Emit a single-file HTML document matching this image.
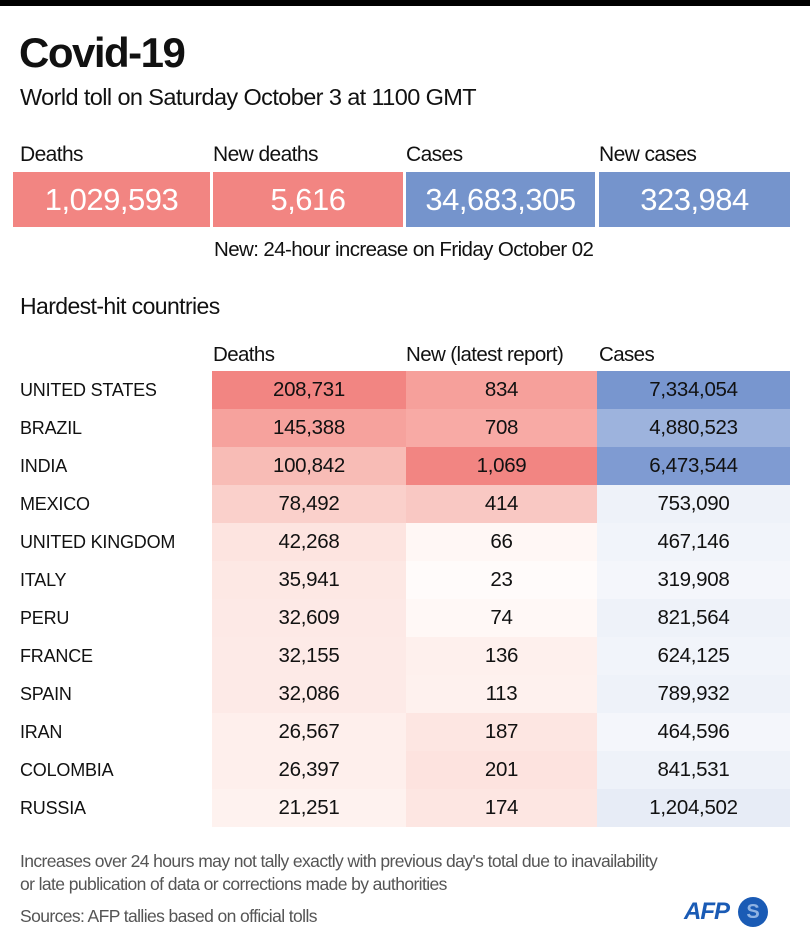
<!DOCTYPE html>
<html><head><meta charset="utf-8"><style>
body{margin:0;width:810px;height:943px;background:#fff;font-family:"Liberation Sans",sans-serif;color:#111;position:relative;overflow:hidden}
.a{position:absolute;white-space:nowrap}
.n{letter-spacing:-0.6px}
.box{position:absolute;top:172px;height:55px;color:#fff;font-size:31px;display:flex;align-items:center;justify-content:center;letter-spacing:-0.5px}
.c{position:absolute;height:38px;display:flex;align-items:center;justify-content:center;font-size:20.5px;letter-spacing:-0.3px}
.l{position:absolute;left:20px;height:38px;display:flex;align-items:center;font-size:18px;letter-spacing:-0.2px}
</style></head><body>
<div class="a" style="left:0;top:0;width:810px;height:6px;background:#000"></div>
<div class="a n" style="left:19px;top:29px;font-size:42px;font-weight:bold;letter-spacing:-1.5px">Covid-19</div>
<div class="a n" style="left:20px;top:84px;font-size:23.5px">World toll on Saturday October 3 at 1100 GMT</div>
<div class="a n" style="left:20px;top:143px;font-size:21px">Deaths</div>
<div class="a n" style="left:213px;top:143px;font-size:21px">New deaths</div>
<div class="a n" style="left:406px;top:143px;font-size:21px">Cases</div>
<div class="a n" style="left:599px;top:143px;font-size:21px">New cases</div>
<div class="box" style="left:13px;width:197px;background:#f28582">1,029,593</div>
<div class="box" style="left:213px;width:190px;background:#f28582">5,616</div>
<div class="box" style="left:406px;width:189px;background:#7594cc">34,683,305</div>
<div class="box" style="left:599px;width:191px;background:#7594cc">323,984</div>
<div class="a n" style="left:214px;top:238px;font-size:20.5px">New: 24-hour increase on Friday October 02</div>
<div class="a n" style="left:20px;top:293px;font-size:23px">Hardest-hit countries</div>
<div class="a n" style="left:213px;top:343px;font-size:20.5px">Deaths</div>
<div class="a n" style="left:406px;top:343px;font-size:20.5px">New (latest report)</div>
<div class="a n" style="left:599px;top:343px;font-size:20.5px">Cases</div>
<div id="t"></div>
<div class="a n" style="left:20px;top:850px;font-size:17.5px;color:#555;line-height:23px">Increases over 24 hours may not tally exactly with previous day's total due to inavailability<br>or late publication of data or corrections made by authorities</div>
<div class="a n" style="left:20px;top:906px;font-size:17.5px;color:#555">Sources: AFP tallies based on official tolls</div>
<div class="a" style="left:684px;top:898px;font-size:24px;font-weight:bold;font-style:italic;color:#1a5bb5;letter-spacing:-1px">AFP</div>
<div class="a" style="left:738px;top:897px;width:30px;height:30px;border-radius:50%;background:#1a5bb5;color:#8fb3e3;font-weight:bold;font-size:20px;text-align:center;line-height:30px">S</div>
<script>
var rows=[
["UNITED STATES","208,731","834","7,334,054","#f28582","#f6a09b","#7896cf"],
["BRAZIL","145,388","708","4,880,523","#f6a29d","#f8aaa5","#9db3dd"],
["INDIA","100,842","1,069","6,473,544","#f8bcb6","#f28582","#7f9bd2"],
["MEXICO","78,492","414","753,090","#fad0cb","#f9c8c3","#eef2f9"],
["UNITED KINGDOM","42,268","66","467,146","#fde4e0","#fff7f5","#f1f4fa"],
["ITALY","35,941","23","319,908","#fde8e4","#fffbfa","#f4f6fb"],
["PERU","32,609","74","821,564","#fde9e6","#fff8f6","#eef2f9"],
["FRANCE","32,155","136","624,125","#fdeae7","#fef0ed","#f1f4fa"],
["SPAIN","32,086","113","789,932","#fdeae7","#fef1ee","#eef2f9"],
["IRAN","26,567","187","464,596","#feefec","#fde6e2","#f4f6fb"],
["COLOMBIA","26,397","201","841,531","#feefec","#fde3df","#eef2f9"],
["RUSSIA","21,251","174","1,204,502","#fef2ef","#fde6e2","#e7ecf6"]];
var h="",xs=[[212,194],[406,191],[597,193]];
rows.forEach(function(r,i){var y=371+i*38;
h+='<div class="l" style="top:'+y+'px">'+r[0]+'</div>';
for(var k=0;k<3;k++)h+='<div class="c" style="top:'+y+'px;left:'+xs[k][0]+'px;width:'+xs[k][1]+'px;background:'+r[4+k]+'">'+r[1+k]+'</div>';});
document.getElementById("t").innerHTML=h;
</script>
</body></html>
